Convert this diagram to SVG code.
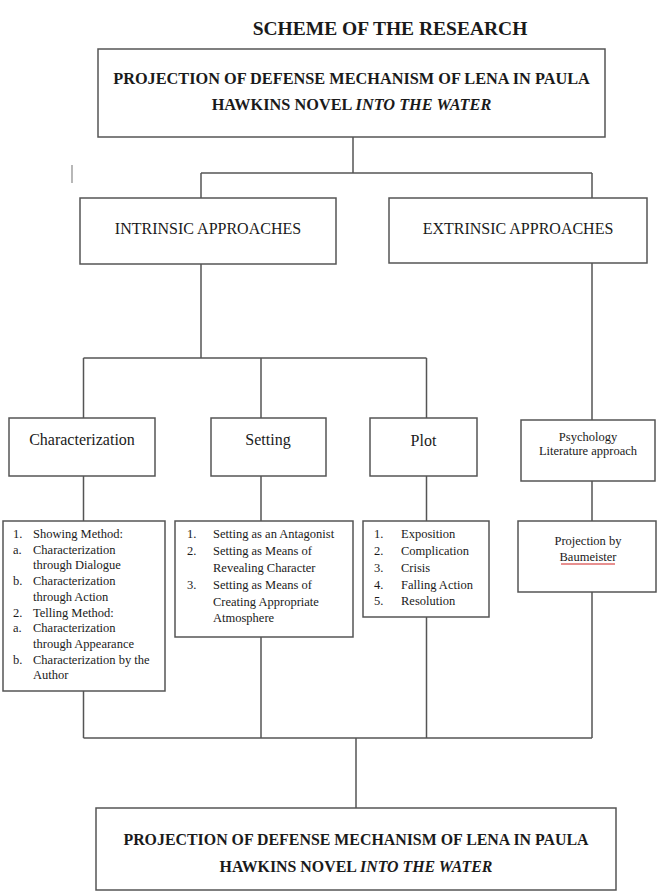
<svg xmlns="http://www.w3.org/2000/svg" width="661" height="892" viewBox="0 0 661 892">
<style>
  .bg{fill:#ffffff}
  .box{fill:#ffffff;stroke:#555;stroke-width:1.5}
  .ln{fill:none;stroke:#555;stroke-width:1.5}
  .t{font-family:"Liberation Serif","Times New Roman",serif;fill:#1a1a1a}
  .title{font-size:19.5px;font-weight:bold;text-anchor:middle}
  .main{font-size:16.3px;font-weight:bold;text-anchor:middle}
  .main2{font-size:15.9px;font-weight:bold;text-anchor:middle}
  .hd{font-size:16px;text-anchor:middle}
  .sm{font-size:12.5px}
  .smc{font-size:12.5px;text-anchor:middle}
</style>
<rect class="bg" x="0" y="0" width="661" height="892"/>
<text class="t title" x="390" y="35">SCHEME OF THE RESEARCH</text>
<line x1="72" y1="165" x2="72" y2="183" stroke="#888" stroke-width="1.2"/>

<g id="connectors">
  <path class="ln" d="M353 137 V173 M201 173 H592 M201 173 V198 M592 173 V198"/>
  <path class="ln" d="M201 264 V358 M83.5 358 H426.5 M83.5 358 V418 M261 358 V418 M426.5 358 V418"/>
  <path class="ln" d="M592 263 V420"/>
  <path class="ln" d="M83.5 476 V521 M261 476 V521 M426.5 476 V521 M592 481 V521"/>
  <path class="ln" d="M83.5 691 V738 M261 637 V738 M426.5 617 V738 M592 592 V738 M356 738 V808"/>
  <path class="ln" stroke-width="2" d="M83.5 738 H592"/>
</g>

<g id="top">
  <rect class="box" x="98" y="49" width="507" height="88"/>
  <text class="t main" x="351.5" y="84">PROJECTION OF DEFENSE MECHANISM OF LENA IN PAULA</text>
  <text class="t main" x="351.5" y="110">HAWKINS NOVEL <tspan font-style="italic">INTO THE WATER</tspan></text>
</g>

<g id="intrinsic">
  <rect class="box" x="80" y="198" width="256" height="66"/>
  <text class="t hd" x="208" y="234">INTRINSIC APPROACHES</text>
</g>
<g id="extrinsic">
  <rect class="box" x="389" y="198" width="258" height="65"/>
  <text class="t hd" x="518" y="234">EXTRINSIC APPROACHES</text>
</g>

<g id="characterization">
  <rect class="box" x="9" y="418" width="146" height="58"/>
  <text class="t hd" x="82" y="445">Characterization</text>
</g>
<g id="setting">
  <rect class="box" x="211" y="418" width="115" height="58"/>
  <text class="t hd" x="268" y="445">Setting</text>
</g>
<g id="plot">
  <rect class="box" x="370" y="418" width="107" height="58"/>
  <text class="t hd" x="423.5" y="446">Plot</text>
</g>
<g id="psychology">
  <rect class="box" x="521" y="420" width="134" height="61"/>
  <text class="t smc" x="588" y="441">Psychology</text>
  <text class="t smc" x="588" y="455">Literature approach</text>
</g>

<g id="characterization-list">
  <rect class="box" x="3" y="521" width="162" height="170"/>
  <text class="t sm" x="13" y="538">1.</text><text class="t sm" x="33" y="538">Showing Method:</text>
  <text class="t sm" x="13" y="553.7">a.</text><text class="t sm" x="33" y="553.7">Characterization</text>
  <text class="t sm" x="33" y="569.4">through Dialogue</text>
  <text class="t sm" x="13" y="585.1">b.</text><text class="t sm" x="33" y="585.1">Characterization</text>
  <text class="t sm" x="33" y="600.8">through Action</text>
  <text class="t sm" x="13" y="616.5">2.</text><text class="t sm" x="33" y="616.5">Telling Method:</text>
  <text class="t sm" x="13" y="632.2">a.</text><text class="t sm" x="33" y="632.2">Characterization</text>
  <text class="t sm" x="33" y="647.9">through Appearance</text>
  <text class="t sm" x="13" y="663.6">b.</text><text class="t sm" x="33" y="663.6">Characterization by the</text>
  <text class="t sm" x="33" y="679.3">Author</text>
</g>

<g id="setting-list">
  <rect class="box" x="175" y="521" width="178" height="116"/>
  <text class="t sm" x="187" y="538">1.</text><text class="t sm" x="213" y="538">Setting as an Antagonist</text>
  <text class="t sm" x="187" y="555">2.</text><text class="t sm" x="213" y="555">Setting as Means of</text>
  <text class="t sm" x="213" y="572">Revealing Character</text>
  <text class="t sm" x="187" y="589">3.</text><text class="t sm" x="213" y="589">Setting as Means of</text>
  <text class="t sm" x="213" y="606">Creating Appropriate</text>
  <text class="t sm" x="213" y="622">Atmosphere</text>
</g>

<g id="plot-list">
  <rect class="box" x="363" y="521" width="126" height="96"/>
  <text class="t sm" x="374" y="538">1.</text><text class="t sm" x="401" y="538">Exposition</text>
  <text class="t sm" x="374" y="555">2.</text><text class="t sm" x="401" y="555">Complication</text>
  <text class="t sm" x="374" y="572">3.</text><text class="t sm" x="401" y="572">Crisis</text>
  <text class="t sm" x="374" y="589">4.</text><text class="t sm" x="401" y="589">Falling Action</text>
  <text class="t sm" x="374" y="605">5.</text><text class="t sm" x="401" y="605">Resolution</text>
</g>

<g id="projection">
  <rect class="box" x="518" y="521" width="138" height="71"/>
  <text class="t smc" x="588" y="545">Projection by</text>
  <text class="t smc" x="588" y="561">Baumeister</text>
  <line x1="561" y1="564" x2="615" y2="564" stroke="#d02020" stroke-width="1.2"/>
</g>

<g id="bottom">
  <rect class="box" x="96" y="808" width="520" height="82"/>
  <text class="t main2" x="356" y="845">PROJECTION OF DEFENSE MECHANISM OF LENA IN PAULA</text>
  <text class="t main2" x="356" y="872">HAWKINS NOVEL <tspan font-style="italic">INTO THE WATER</tspan></text>
</g>
</svg>
